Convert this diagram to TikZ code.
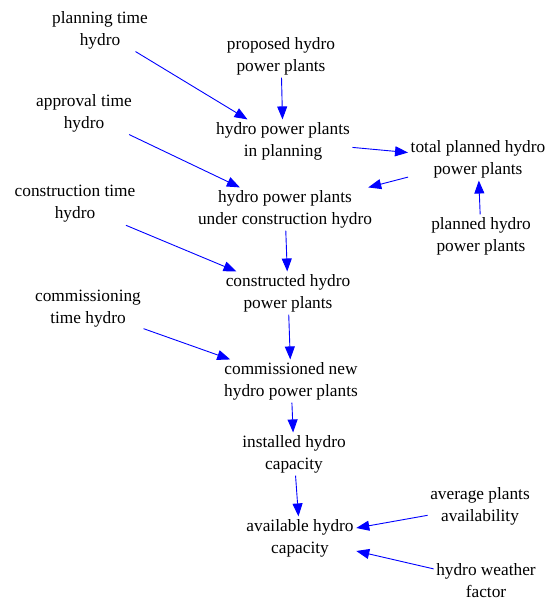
\documentclass[tikz,border=0pt]{standalone}
\usepackage{fontspec}
\setmainfont{Liberation Serif}
\usetikzlibrary{arrows.meta}
\begin{document}
\begin{tikzpicture}[x=1pt,y=-1pt,
  var/.style={align=center,inner sep=2.5pt,font=\fontsize{17.3}{22}\selectfont,text=black},
  link/.style={draw=blue,line width=0.9pt,-{Triangle[length=13pt,width=10pt]}}]
\useasboundingbox (0,0) rectangle (551,601);
\node[var] (pt)  at (100,30)  {planning time\\hydro};
\node[var] (pp)  at (281,56)  {proposed hydro\\power plants};
\node[var] (ip)  at (283,141) {hydro power plants\\in planning};
\node[var] (at)  at (84,113)  {approval time\\hydro};
\node[var] (tp)  at (478,159) {total planned hydro\\power plants};
\node[var] (uc)  at (285,209) {hydro power plants\\under construction hydro};
\node[var] (php) at (481,236) {planned hydro\\power plants};
\node[var] (ct)  at (75,204)  {construction time\\hydro};
\node[var] (cp)  at (288,293) {constructed hydro\\power plants};
\node[var] (cmt) at (88,309)  {commissioning\\time hydro};
\node[var] (cn)  at (291,381) {commissioned new\\hydro power plants};
\node[var] (ic)  at (294,454) {installed hydro\\capacity};
\node[var] (ac)  at (300,538) {available hydro\\capacity};
\node[var] (apa) at (480,506) {average plants\\availability};
\node[var] (hwf) at (486,581) {hydro weather\\factor};
\draw[link] (pt) -- (ip);
\draw[link] (pp) -- (ip);
\draw[link] (at) -- (uc);
\draw[link] (ip) -- (tp);
\draw[link] (tp) -- (uc);
\draw[link] (php) -- (tp);
\draw[link] (uc) -- (cp);
\draw[link] (ct) -- (cp);
\draw[link] (cp) -- (cn);
\draw[link] (cmt) -- (cn);
\draw[link] (cn) -- (ic);
\draw[link] (ic) -- (ac);
\draw[link] (apa) -- (ac);
\draw[link] (hwf) -- (ac);
\end{tikzpicture}
\end{document}
